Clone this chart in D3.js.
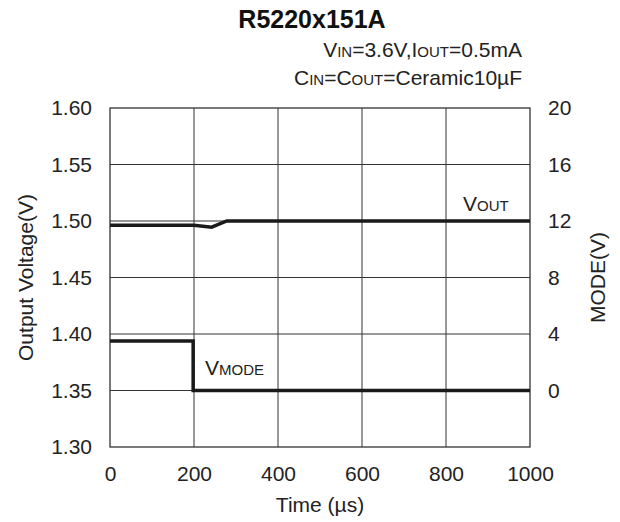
<!DOCTYPE html>
<html>
<head>
<style>
    body { margin: 0; background: #fff; font-family: "Liberation Sans", Arial, sans-serif; }
    .tick text { font-size: 21px; fill: #222; }
</style>
<script src="https://d3js.org/d3.v7.min.js"></script>
</head>
<body>
<div id="chart"></div>
<script>
    // data
    const voutTime = [0, 200, 242, 278, 1000];
    const voutVal = [1.4962, 1.4962, 1.4945, 1.5, 1.5];
    const modeTime = [0, 198, 198, 1000];
    const modeVal = [3.5, 3.5, 0, 0];

    const xTicks = [0, 200, 400, 600, 800, 1000];
    const yTicks = [1.30, 1.35, 1.40, 1.45, 1.50, 1.55, 1.60];
    const y2Ticks = [0, 4, 8, 12, 16, 20];

    const W = 620, H = 522;
    const m = {left: 110, right: 90, top: 108, bottom: 75};
    const ff = '"Liberation Sans", Arial, sans-serif';
    const FS = '21px', SUB = '15px';

    const svg = d3.select('#chart').append('svg')
        .attr('width', W).attr('height', H);

    const x = d3.scaleLinear().domain([0, 1000]).range([m.left, W - m.right]);
    const y = d3.scaleLinear().domain([1.30, 1.60]).range([H - m.bottom, m.top]);
    const y2 = d3.scaleLinear().domain([-4, 20]).range([H - m.bottom, m.top]);

    // grid
    svg.append('g').selectAll('line').data(xTicks.slice(1, -1)).join('line')
        .attr('x1', d => x(d)).attr('x2', d => x(d))
        .attr('y1', y(1.30)).attr('y2', y(1.60))
        .attr('stroke', '#333').attr('stroke-width', 1);
    svg.append('g').selectAll('line').data(yTicks.slice(1, -1)).join('line')
        .attr('x1', x(0)).attr('x2', x(1000))
        .attr('y1', d => y(d)).attr('y2', d => y(d))
        .attr('stroke', '#333').attr('stroke-width', 1);

    svg.append('rect')
        .attr('x', x(0)).attr('y', y(1.60))
        .attr('width', x(1000) - x(0)).attr('height', y(1.30) - y(1.60))
        .attr('fill', 'none').attr('stroke', '#333').attr('stroke-width', 1.3);

    // axes (labels only)
    const ax = svg.append('g').attr('transform', `translate(0,${y(1.30)})`)
        .call(d3.axisBottom(x).tickValues(xTicks).tickFormat(d3.format('d')).tickSize(0).tickPadding(19));
    const ayl = svg.append('g').attr('transform', `translate(${x(0)},0)`)
        .call(d3.axisLeft(y).tickValues(yTicks).tickFormat(d3.format('.2f')).tickSize(0).tickPadding(18));
    const ayr = svg.append('g').attr('transform', `translate(${x(1000)},0)`)
        .call(d3.axisRight(y2).tickValues(y2Ticks).tickSize(0).tickPadding(18));
    [ax, ayl, ayr].forEach(g => {
        g.select('.domain').remove();
        g.selectAll('text').attr('font-family', ff);
    });

    // series
    const line = d3.line().x(d => x(d[0])).y(d => d[1]);
    svg.append('path')
        .attr('d', line(voutTime.map((t, i) => [t, y(voutVal[i])])))
        .attr('fill', 'none').attr('stroke', '#1a1a1a').attr('stroke-width', 3.5);
    svg.append('path')
        .attr('d', line(modeTime.map((t, i) => [t, y2(modeVal[i])])))
        .attr('fill', 'none').attr('stroke', '#1a1a1a').attr('stroke-width', 3.5);

    // text with small subscript-like parts
    function subText(parent, parts, attrs) {
        const t = parent.append('text');
        Object.entries(attrs).forEach(([k, v]) => t.attr(k, v));
        parts.forEach(p => {
            t.append('tspan').text(p[0]).attr('font-size', p[1] ? SUB : null);
        });
        return t;
    }

    svg.append('text').attr('x', 312).attr('y', 28).attr('text-anchor', 'middle')
        .attr('font-family', ff).attr('font-weight', 'bold').attr('font-size', '25px')
        .attr('fill', '#111').text('R5220x151A');

    subText(svg, [['V'], ['IN', 1], ['=3.6V,I'], ['OUT', 1], ['=0.5mA']],
        {x: 522, y: 57, 'text-anchor': 'end', 'font-family': ff, 'font-size': FS, fill: '#222'});
    subText(svg, [['C'], ['IN', 1], ['=C'], ['OUT', 1], ['=Ceramic10\u00b5F']],
        {x: 522, y: 85, 'text-anchor': 'end', 'font-family': ff, 'font-size': FS, fill: '#222'});

    subText(svg, [['V'], ['OUT', 1]],
        {x: 463, y: 211, 'font-family': ff, 'font-size': FS, fill: '#222'});
    subText(svg, [['V'], ['MODE', 1]],
        {x: 205, y: 375, 'font-family': ff, 'font-size': FS, fill: '#222'});

    const midY = (y(1.30) + y(1.60)) / 2;
    svg.append('text').attr('transform', `translate(33,${midY}) rotate(-90)`)
        .attr('text-anchor', 'middle').attr('font-family', ff).attr('font-size', FS)
        .attr('fill', '#222').text('Output Voltage(V)');
    svg.append('text').attr('transform', `translate(605,${midY}) rotate(-90)`)
        .attr('text-anchor', 'middle').attr('font-family', ff).attr('font-size', FS)
        .attr('fill', '#222').text('MODE(V)');
    svg.append('text').attr('x', x(500)).attr('y', 512).attr('text-anchor', 'middle')
        .attr('font-family', ff).attr('font-size', FS).attr('fill', '#222')
        .text('Time (\u00b5s)');
</script>
</body>
</html>
